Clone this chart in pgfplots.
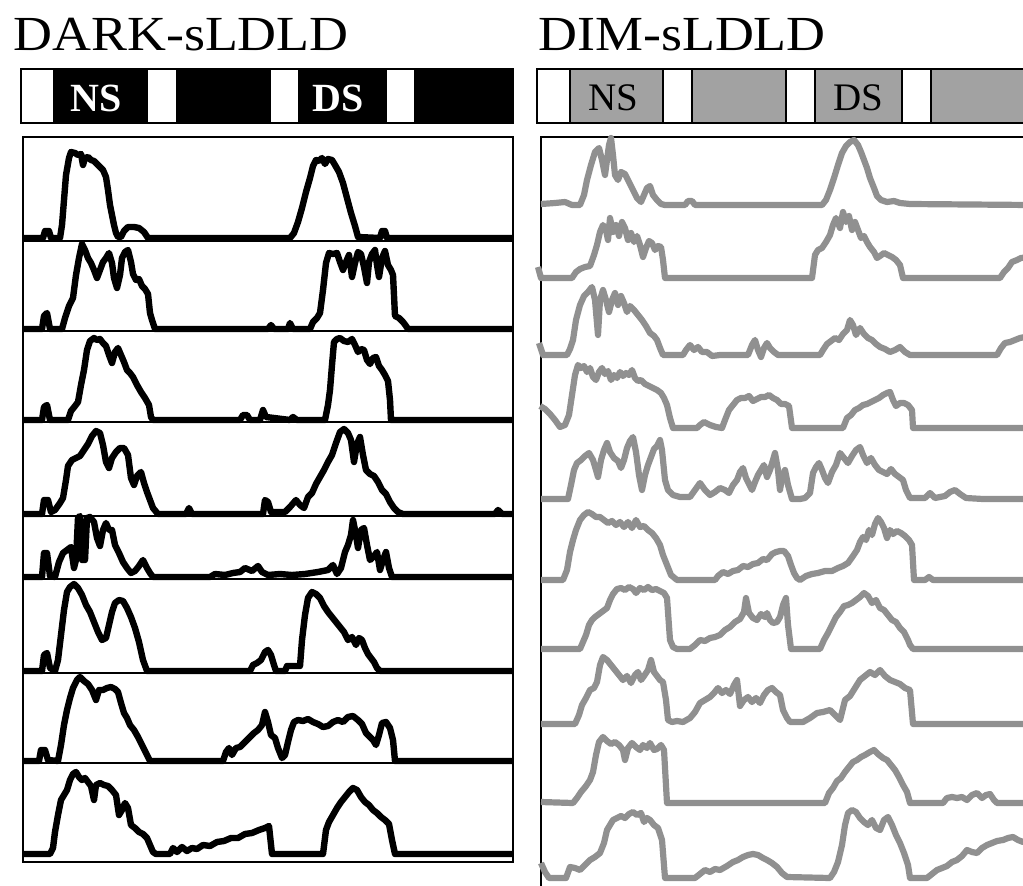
\documentclass[border=0pt]{standalone}
\usepackage{pgfplots}
\pgfplotsset{compat=1.18}
\usepackage{fontspec}
\setmainfont{Liberation Serif}

\definecolor{dimline}{RGB}{144,144,144}
\definecolor{dimbar}{RGB}{162,162,162}

% coordinates are image pixels (1 px = 0.5pt), y grows downwards
\pgfplotsset{
  panel/.style={scale only axis, clip=false, y dir=reverse,
    xtick=\empty, ytick=\empty,
    axis line style={line width=0.8pt, black}},
  dark/.style={black, line width=3.2pt, line join=round, no marks},
  dim/.style={dimline, line width=3.1pt, line join=round, no marks},
}

\begin{document}
\begin{tikzpicture}
\useasboundingbox (0,0) rectangle (511.5pt,-443pt);

% ---------------- DARK-sLDLD ----------------
\begin{axis}[panel, at={(11.5pt,-68.5pt)}, anchor=north west,
  width=245pt, height=362.5pt, xmin=23, xmax=513, ymin=137, ymax=862]

\node[anchor=base west, inner sep=0] at (axis cs:13,50)
  {\scalebox{1.1}[1]{\fontsize{24.5}{28}\selectfont DARK-sLDLD}};
\draw[line width=0.9pt, fill=black] (axis cs:21,69) rectangle (axis cs:513,123);
\fill[white] (axis cs:22,70) rectangle (axis cs:53,122);
\fill[white] (axis cs:148,70) rectangle (axis cs:176,122);
\fill[white] (axis cs:271,70) rectangle (axis cs:298,122);
\fill[white] (axis cs:387,70) rectangle (axis cs:414,122);
\node[anchor=base, inner sep=0, text=white] at (axis cs:96,111)
  {\fontsize{20}{24}\selectfont\bfseries NS};
\node[anchor=base, inner sep=0, text=white] at (axis cs:338,111)
  {\fontsize{20}{24}\selectfont\bfseries DS};

% thin row frames
\draw[line width=0.6pt] (axis cs:23,241) -- (axis cs:513,241);
\draw[line width=0.6pt] (axis cs:23,331) -- (axis cs:513,331);
\draw[line width=0.6pt] (axis cs:23,422) -- (axis cs:513,422);
\draw[line width=0.6pt] (axis cs:23,516) -- (axis cs:513,516);
\draw[line width=0.6pt] (axis cs:23,579) -- (axis cs:513,579);
\draw[line width=0.6pt] (axis cs:23,673) -- (axis cs:513,673);
\draw[line width=0.6pt] (axis cs:23,763) -- (axis cs:513,763);

\addplot[dark] coordinates {(23,238)(43,238)(45,231)(49,231)(51,238)(60,238)(62,225)(64,200)(66,175)(69,158)(71,152)(75,153)(78,155)(81,154)(83,165)(85,158)(88,157)(91,160)(94,161)(97,164)(100,167)(103,170)(106,177)(108,190)(110,205)(112,215)(114,225)(116,233)(118,237)(121,237)(124,231)(128,227)(134,227)(139,228)(144,232)(148,238)(290,238)(294,233)(298,222)(302,208)(306,192)(310,178)(313,166)(316,160)(319,161)(322,158)(325,164)(328,159)(332,160)(335,165)(339,172)(343,183)(347,198)(351,213)(355,226)(358,237)(380,238)(382,231)(385,231)(387,238)(513,238)};

\addplot[dark] coordinates {(23,329)(42,329)(44,316)(47,313)(50,329)(62,329)(65,318)(69,306)(73,298)(76,275)(79,258)(82,244)(85,250)(88,258)(91,263)(94,270)(97,278)(100,270)(103,262)(106,258)(109,253)(112,263)(114,278)(117,288)(120,275)(122,258)(125,252)(128,250)(131,262)(133,274)(136,280)(139,279)(142,286)(145,289)(148,294)(150,313)(152,320)(155,329)(268,329)(271,325)(274,329)(288,329)(290,323)(293,329)(310,329)(313,322)(317,318)(320,313)(323,290)(326,263)(329,253)(333,254)(337,253)(340,262)(343,270)(346,262)(349,255)(352,277)(355,263)(358,252)(361,254)(364,267)(367,283)(369,262)(372,254)(375,250)(377,265)(379,277)(382,258)(385,251)(388,265)(391,270)(393,275)(395,316)(399,318)(403,322)(406,326)(408,329)(513,329)};

\addplot[dark] coordinates {(23,420)(42,420)(44,407)(47,405)(50,420)(68,420)(71,411)(75,406)(78,402)(81,385)(84,370)(87,350)(90,341)(94,338)(97,340)(100,339)(103,343)(106,346)(109,355)(112,363)(115,352)(118,348)(121,355)(124,362)(127,370)(130,373)(133,377)(137,385)(141,392)(145,398)(149,405)(151,417)(153,420)(240,420)(243,415)(247,415)(250,420)(260,420)(263,410)(266,417)(290,420)(293,417)(297,420)(325,420)(328,405)(330,390)(332,365)(334,342)(337,339)(340,338)(344,341)(348,342)(352,339)(355,345)(358,352)(361,349)(364,350)(367,360)(370,364)(373,358)(376,357)(379,366)(382,370)(385,375)(388,381)(390,400)(391,420)(513,420)};

\addplot[dark] coordinates {(23,514)(42,514)(44,500)(48,500)(51,512)(55,510)(60,503)(63,498)(66,480)(68,466)(72,460)(76,458)(80,456)(84,450)(88,444)(92,436)(96,431)(100,433)(103,445)(106,462)(109,468)(112,458)(116,452)(120,448)(124,448)(128,455)(131,478)(134,485)(137,476)(141,472)(144,483)(147,492)(150,500)(153,508)(158,514)(186,514)(189,508)(192,514)(263,514)(265,500)(268,502)(271,512)(285,512)(290,507)(296,500)(300,505)(304,508)(308,497)(312,493)(316,484)(320,477)(324,470)(328,462)(332,455)(336,443)(340,432)(344,429)(348,433)(351,440)(354,462)(357,444)(360,437)(363,455)(366,470)(370,474)(374,476)(378,482)(382,490)(386,494)(390,502)(394,508)(398,512)(403,514)(495,514)(498,510)(502,514)(513,514)};

\addplot[dark] coordinates {(23,577)(42,577)(44,553)(47,553)(50,576)(55,577)(59,562)(63,553)(67,550)(71,547)(74,568)(76,560)(78,518)(80,516)(82,560)(85,560)(87,518)(90,517)(94,522)(97,538)(100,546)(103,530)(106,523)(109,530)(112,530)(115,545)(119,553)(123,562)(127,568)(131,573)(135,571)(139,566)(143,560)(147,568)(150,573)(153,577)(210,577)(215,574)(225,575)(233,573)(240,572)(245,568)(252,571)(258,566)(262,572)(268,575)(280,574)(292,575)(305,574)(318,572)(328,570)(333,565)(337,574)(341,568)(345,552)(348,545)(351,535)(353,520)(356,535)(358,548)(361,530)(364,528)(367,545)(370,560)(374,556)(377,552)(380,570)(383,560)(386,552)(389,568)(392,577)(513,577)};

\addplot[dark] coordinates {(23,671)(42,671)(44,655)(47,653)(50,668)(55,671)(58,660)(61,635)(64,610)(67,592)(70,587)(74,584)(78,588)(82,595)(86,605)(90,612)(94,622)(98,632)(102,640)(106,638)(109,625)(112,612)(115,603)(119,600)(123,601)(127,608)(131,617)(135,628)(139,642)(143,660)(147,671)(250,671)(253,665)(257,663)(261,660)(265,652)(268,650)(271,655)(274,665)(276,671)(285,671)(287,666)(300,666)(302,640)(305,615)(308,598)(312,592)(316,594)(320,598)(324,606)(328,612)(332,617)(336,622)(340,627)(344,632)(348,640)(352,637)(356,645)(359,638)(362,640)(365,648)(368,654)(371,658)(374,662)(377,668)(380,671)(513,671)};

\addplot[dark] coordinates {(23,761)(39,761)(41,750)(45,750)(48,760)(58,761)(61,745)(64,725)(67,710)(70,698)(73,688)(77,680)(80,677)(84,681)(88,684)(92,690)(96,700)(99,690)(103,690)(107,688)(111,687)(115,689)(118,692)(121,703)(124,713)(127,718)(130,725)(134,730)(138,737)(142,745)(146,753)(150,761)(223,761)(226,752)(229,748)(232,755)(236,748)(240,747)(245,742)(250,737)(254,733)(258,730)(262,725)(265,712)(268,722)(271,735)(275,738)(278,748)(282,758)(285,755)(288,742)(291,730)(294,722)(298,720)(303,721)(308,719)(313,722)(318,724)(323,727)(328,726)(333,722)(338,720)(343,722)(348,717)(353,716)(358,720)(362,724)(366,733)(369,736)(373,740)(376,745)(379,735)(382,723)(386,722)(390,728)(393,740)(395,761)(513,761)};

\addplot[dark] coordinates {(23,854)(50,854)(53,848)(55,832)(58,815)(61,800)(64,795)(67,790)(70,780)(73,774)(76,772)(79,777)(82,780)(85,778)(88,782)(91,786)(94,800)(96,785)(100,783)(104,785)(108,786)(112,790)(116,795)(119,815)(122,810)(125,803)(128,808)(131,825)(135,828)(139,832)(143,834)(147,838)(150,845)(153,852)(156,854)(170,854)(173,848)(177,852)(182,847)(187,851)(192,848)(197,849)(203,845)(210,846)(217,842)(224,841)(231,838)(238,838)(245,834)(252,833)(259,830)(265,828)(269,826)(272,854)(323,854)(326,830)(329,822)(333,815)(337,808)(341,802)(345,797)(349,792)(353,788)(357,790)(361,797)(365,802)(369,805)(373,810)(377,813)(381,817)(385,820)(389,824)(392,840)(395,854)(513,854)};
\end{axis}

% ---------------- DIM-sLDLD ----------------
\begin{axis}[panel, at={(270.5pt,-68.5pt)}, anchor=north west,
  width=244.5pt, height=377.5pt, xmin=541, xmax=1030, ymin=137, ymax=892]

\node[anchor=base west, inner sep=0] at (axis cs:538,50)
  {\scalebox{1.1}[1]{\fontsize{24.5}{28}\selectfont DIM-sLDLD}};
\draw[line width=0.9pt, fill=white] (axis cs:537,69) rectangle (axis cs:1030,123);
\draw[line width=0.9pt, fill=dimbar] (axis cs:570,69) rectangle (axis cs:663,123);
\draw[line width=0.9pt, fill=dimbar] (axis cs:692,69) rectangle (axis cs:786,123);
\draw[line width=0.9pt, fill=dimbar] (axis cs:815,69) rectangle (axis cs:902,123);
\draw[line width=0.9pt, fill=dimbar] (axis cs:931,69) rectangle (axis cs:1030,123);
\node[anchor=base, inner sep=0] at (axis cs:613,110)
  {\fontsize{19.5}{23}\selectfont NS};
\node[anchor=base, inner sep=0] at (axis cs:858,110)
  {\fontsize{19.5}{23}\selectfont DS};

\addplot[dim] coordinates {(541,204)(555,203)(565,202)(572,205)(580,205)(584,195)(587,180)(591,165)(595,152)(599,148)(602,160)(605,175)(607,160)(609,145)(611,138)(613,155)(615,175)(618,180)(621,172)(625,174)(629,182)(633,190)(637,198)(641,202)(644,195)(647,188)(650,186)(653,195)(657,200)(661,204)(665,205)(685,205)(688,201)(692,201)(695,205)(822,205)(826,200)(830,190)(834,178)(838,165)(842,153)(846,146)(850,142)(854,140)(858,145)(861,152)(864,160)(867,168)(870,178)(874,188)(877,196)(881,200)(887,202)(894,201)(900,203)(910,204)(1030,205)};

\addplot[dim] coordinates {(538,267)(541,278)(572,278)(576,272)(580,269)(585,267)(590,266)(594,255)(597,245)(600,232)(603,225)(606,230)(608,240)(610,218)(613,232)(616,225)(619,236)(622,222)(625,228)(628,240)(631,233)(634,242)(637,236)(640,245)(643,257)(646,248)(649,241)(652,243)(655,250)(658,246)(661,247)(663,260)(665,278)(812,278)(815,255)(818,250)(822,248)(826,242)(830,235)(833,225)(836,218)(840,228)(843,212)(846,222)(849,216)(852,230)(855,222)(858,230)(861,238)(864,236)(867,242)(870,247)(874,252)(877,258)(880,256)(884,253)(888,255)(892,257)(896,260)(900,265)(903,278)(1000,278)(1004,272)(1008,268)(1012,262)(1017,260)(1021,258)(1030,257)};

\addplot[dim] coordinates {(539,343)(543,355)(567,355)(570,349)(573,340)(576,320)(580,305)(584,296)(588,292)(592,287)(595,300)(598,335)(600,300)(603,290)(606,300)(609,312)(612,300)(615,293)(618,305)(621,296)(624,303)(627,312)(630,306)(634,310)(638,315)(642,320)(646,326)(650,333)(654,336)(657,340)(660,348)(663,355)(683,355)(686,350)(690,345)(694,350)(698,347)(702,352)(707,352)(712,356)(720,355)(748,355)(752,345)(755,340)(758,350)(761,357)(764,348)(767,343)(770,348)(774,352)(778,355)(820,355)(823,350)(827,344)(831,341)(835,338)(839,340)(843,334)(847,330)(850,320)(853,325)(856,335)(860,328)(864,334)(868,338)(872,340)(876,344)(880,347)(885,349)(890,352)(895,350)(900,347)(905,352)(910,355)(997,355)(1001,348)(1005,343)(1010,342)(1015,340)(1020,338)(1030,336)};

\addplot[dim] coordinates {(540,406)(545,409)(550,414)(555,420)(560,427)(565,425)(569,415)(572,395)(575,375)(578,365)(581,368)(584,366)(587,372)(590,368)(593,377)(596,380)(599,372)(602,368)(605,374)(608,371)(611,380)(614,375)(617,378)(620,372)(623,376)(626,373)(629,375)(632,370)(635,378)(638,381)(641,380)(645,384)(649,386)(653,388)(657,390)(661,393)(664,398)(667,405)(670,418)(673,428)(697,428)(700,425)(704,422)(710,425)(716,427)(722,428)(725,420)(729,410)(733,405)(737,400)(741,398)(745,398)(749,396)(753,401)(757,399)(761,397)(765,397)(769,395)(773,398)(777,400)(781,404)(785,404)(789,406)(792,428)(843,428)(847,418)(851,415)(855,410)(859,408)(863,405)(867,404)(871,402)(875,400)(879,398)(883,395)(887,393)(890,392)(893,400)(896,406)(900,403)(904,403)(908,405)(912,410)(913,428)(1030,428)};

\addplot[dim] coordinates {(541,499)(568,499)(571,485)(574,470)(577,463)(581,460)(585,456)(589,453)(593,460)(596,470)(598,477)(601,460)(604,450)(607,443)(610,452)(614,458)(618,461)(621,468)(624,460)(627,448)(630,441)(633,437)(636,452)(639,475)(642,490)(645,475)(648,465)(651,457)(654,449)(657,446)(660,440)(662,450)(665,480)(668,490)(673,495)(680,497)(690,497)(695,490)(700,483)(705,490)(710,495)(715,492)(720,488)(725,490)(729,493)(733,485)(737,480)(740,472)(743,468)(746,478)(749,484)(752,490)(755,482)(758,475)(761,470)(764,465)(767,477)(770,470)(773,460)(775,453)(778,470)(780,490)(782,478)(785,470)(788,485)(792,499)(800,499)(805,498)(810,493)(813,473)(816,467)(819,463)(822,470)(825,478)(828,483)(832,472)(836,465)(840,453)(844,458)(848,463)(852,456)(856,450)(860,447)(863,455)(867,463)(871,458)(875,465)(879,470)(883,472)(887,474)(891,469)(895,474)(899,477)(903,480)(906,490)(910,498)(925,498)(930,493)(935,498)(945,496)(950,492)(955,490)(960,494)(966,498)(983,499)(1030,499)};

\addplot[dim] coordinates {(541,580)(563,580)(567,570)(570,552)(573,540)(576,530)(580,520)(584,515)(588,512)(592,514)(596,517)(600,517)(604,520)(608,523)(612,521)(616,525)(620,522)(624,527)(628,522)(632,528)(636,520)(640,527)(644,526)(648,530)(652,533)(656,538)(660,545)(663,555)(667,565)(671,575)(677,580)(715,580)(718,576)(723,572)(728,574)(733,571)(738,570)(743,566)(748,567)(753,564)(758,563)(763,559)(767,560)(772,554)(776,552)(780,551)(784,551)(788,556)(791,565)(794,573)(797,578)(800,580)(806,576)(812,574)(818,573)(825,571)(832,571)(838,568)(843,566)(848,563)(853,556)(857,550)(860,542)(863,537)(866,540)(869,530)(872,535)(875,524)(878,518)(881,522)(884,528)(887,538)(890,530)(893,534)(897,531)(901,533)(905,536)(909,540)(912,545)(914,580)(925,580)(929,577)(933,580)(1030,580)};

\addplot[dim] coordinates {(541,649)(580,649)(583,642)(586,635)(589,625)(592,620)(595,617)(599,614)(603,611)(607,608)(610,600)(613,594)(617,589)(621,588)(625,590)(629,587)(633,589)(636,593)(640,588)(644,590)(648,587)(652,590)(656,589)(660,591)(664,593)(667,598)(670,640)(673,647)(677,649)(690,649)(695,645)(700,640)(705,641)(710,638)(715,637)(720,635)(725,630)(730,627)(735,622)(740,619)(744,612)(746,598)(749,613)(753,618)(757,620)(761,614)(765,617)(767,613)(770,620)(773,623)(777,622)(780,617)(783,605)(786,598)(788,625)(791,649)(820,649)(824,640)(828,633)(832,625)(836,617)(840,612)(844,606)(848,605)(852,603)(856,600)(860,597)(864,593)(868,596)(872,603)(876,600)(880,608)(884,610)(888,615)(892,620)(896,622)(900,628)(904,632)(908,640)(910,645)(913,649)(1030,649)};

\addplot[dim] coordinates {(541,724)(575,724)(579,715)(582,705)(586,698)(590,690)(594,688)(597,682)(600,665)(603,657)(607,660)(611,665)(615,670)(619,675)(623,680)(627,676)(631,683)(635,675)(638,672)(641,680)(644,676)(648,670)(651,660)(654,672)(657,676)(660,680)(663,682)(666,700)(668,720)(672,722)(677,721)(683,722)(690,718)(695,712)(700,703)(705,700)(710,697)(714,693)(718,688)(722,693)(726,690)(730,694)(734,685)(737,680)(740,706)(744,700)(748,697)(752,702)(756,698)(760,703)(764,695)(768,690)(772,688)(776,692)(780,695)(783,710)(787,718)(790,722)(803,722)(810,718)(817,713)(823,712)(830,710)(836,716)(840,720)(845,700)(850,696)(855,688)(860,680)(865,676)(870,672)(875,675)(880,670)(885,676)(890,680)(895,682)(900,684)(905,688)(910,690)(913,724)(1030,724)};

\addplot[dim] coordinates {(541,802)(573,803)(577,798)(581,792)(586,786)(590,780)(593,772)(596,755)(599,742)(603,737)(607,741)(611,744)(615,742)(619,745)(623,750)(625,760)(628,748)(632,743)(636,747)(640,750)(643,745)(647,748)(650,743)(654,750)(657,749)(661,745)(664,750)(667,803)(825,803)(829,793)(833,788)(837,781)(841,778)(845,772)(849,767)(853,762)(857,760)(861,757)(865,755)(870,752)(874,750)(878,754)(883,758)(887,760)(891,765)(895,770)(899,777)(903,785)(907,792)(910,803)(943,803)(947,798)(952,797)(957,798)(962,797)(967,800)(972,795)(977,793)(982,798)(986,795)(990,794)(994,800)(997,803)(1030,803)};

\addplot[dim] coordinates {(541,863)(545,872)(549,878)(566,878)(570,867)(575,868)(580,870)(585,865)(590,860)(595,857)(600,853)(604,843)(607,830)(610,825)(613,820)(617,818)(621,816)(625,818)(629,814)(633,812)(637,815)(641,813)(644,822)(647,818)(650,820)(654,825)(658,828)(662,840)(665,878)(695,878)(700,874)(705,870)(710,872)(715,869)(720,870)(727,866)(733,862)(738,860)(743,857)(748,855)(753,854)(758,855)(763,858)(767,860)(772,863)(777,867)(782,873)(787,877)(830,878)(834,872)(838,862)(842,845)(845,825)(848,813)(852,810)(856,812)(860,818)(864,822)(868,825)(872,820)(876,828)(880,830)(884,820)(888,817)(892,825)(896,835)(900,843)(904,853)(908,865)(910,878)(927,878)(932,874)(937,870)(942,868)(947,866)(952,862)(957,860)(962,856)(967,850)(972,852)(977,853)(982,848)(987,845)(992,843)(997,841)(1003,840)(1008,838)(1013,837)(1018,840)(1023,842)(1030,838)};
\end{axis}
\end{tikzpicture}
\end{document}
